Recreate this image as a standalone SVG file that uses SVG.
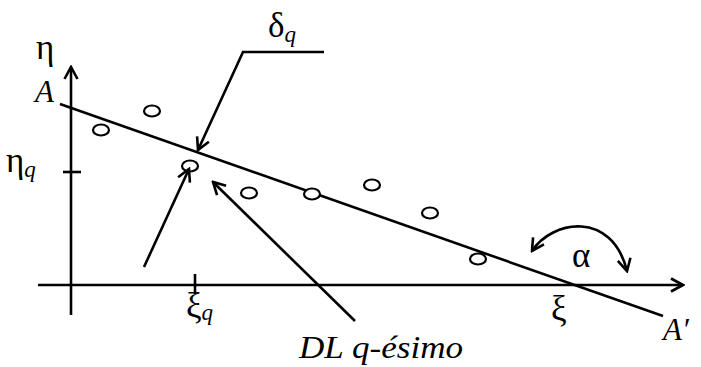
<svg xmlns="http://www.w3.org/2000/svg" width="701" height="367" viewBox="0 0 701 367">
<defs>
<style>
.ln{stroke:#000;stroke-width:2.6;fill:none;stroke-linecap:butt}
.pt{stroke:#000;stroke-width:2.2;fill:#fff}
.t{font-family:"Liberation Serif","Times New Roman",serif;font-size:31px;fill:#000}
.g{font-size:35px}
.i{font-style:italic}
.s{font-family:"Liberation Serif","Times New Roman",serif;font-style:italic;font-size:23px}
</style>
<marker id="ah" viewBox="0 0 16 16" refX="14" refY="8" markerWidth="16" markerHeight="16" markerUnits="userSpaceOnUse" orient="auto-start-reverse">
<path d="M2,1.5 L14,8 L2,14.5" fill="none" stroke="#000" stroke-width="2.6"/>
</marker>
</defs>
<rect width="701" height="367" fill="#fff"/>
<g id="axes">
<line class="ln" x1="71" y1="315" x2="71" y2="67" marker-end="url(#ah)"/>
<line class="ln" x1="38" y1="285" x2="683" y2="285" marker-end="url(#ah)"/>
<line class="ln" x1="63" y1="172" x2="81" y2="172"/>
<line class="ln" x1="195" y1="274" x2="195" y2="294"/>
</g>
<g id="regression-line">
<line class="ln" x1="60" y1="104" x2="663" y2="316"/>
</g>
<g id="points">
<ellipse class="pt" cx="101" cy="130" rx="8" ry="5.5"/>
<ellipse class="pt" cx="152" cy="111" rx="8" ry="5.5"/>
<ellipse class="pt" cx="190" cy="166" rx="8" ry="5.5"/>
<ellipse class="pt" cx="249" cy="193" rx="8" ry="5.5"/>
<ellipse class="pt" cx="312" cy="194" rx="8" ry="5.5"/>
<ellipse class="pt" cx="372" cy="185" rx="8" ry="5.5"/>
<ellipse class="pt" cx="430" cy="213" rx="8" ry="5.5"/>
<ellipse class="pt" cx="478" cy="259" rx="8" ry="5.5"/>
</g>
<g id="connectors">
<polyline class="ln" points="324,52 243,52 198,150" marker-end="url(#ah)"/>
<line class="ln" x1="144" y1="267" x2="189" y2="169" marker-end="url(#ah)"/>
<line class="ln" x1="355" y1="321" x2="213" y2="182" marker-end="url(#ah)"/>
<path class="ln" d="M532,251 C552,220 612,210 627,271" marker-start="url(#ah)" marker-end="url(#ah)"/>
</g>
<g id="labels">
<text class="t g" x="36" y="59">η</text>
<text class="t i" x="35" y="102">A</text>
<text class="t g" x="6" y="172">η<tspan class="s" dy="5">q</tspan></text>
<text class="t g" x="268" y="37">δ<tspan class="s" dy="5">q</tspan></text>
<text class="t g" x="186" y="317">ξ<tspan class="s" dy="3">q</tspan></text>
<text class="t g" x="551" y="320">ξ</text>
<text class="t g" x="572" y="267">α</text>
<text class="t i" x="663" y="340">A′</text>
<text class="t i" x="299" y="358" textLength="164" lengthAdjust="spacingAndGlyphs">DL q-ésimo</text>
</g>
</svg>
